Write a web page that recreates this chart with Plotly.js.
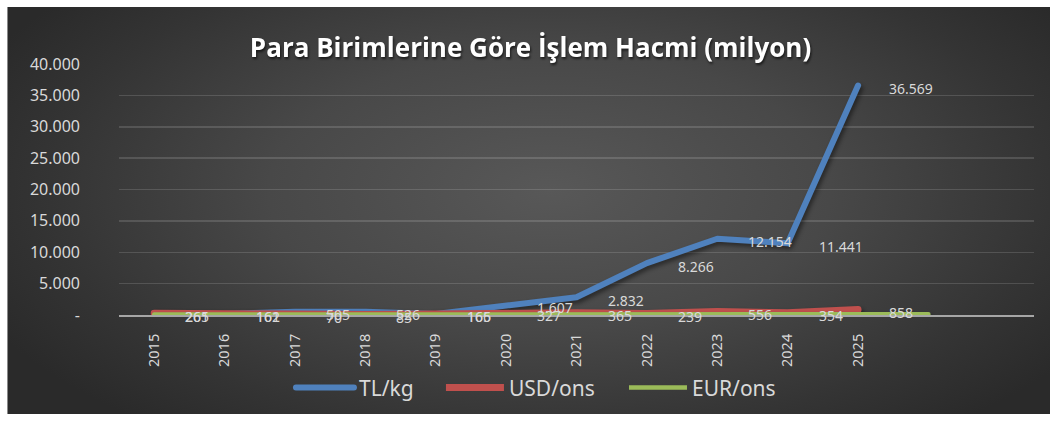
<!DOCTYPE html>
<html>
<head>
<meta charset="utf-8">
<script src="https://cdn.plot.ly/plotly-3.0.1.min.js"></script>
<style>
  html, body { margin: 0; padding: 0; background: #ffffff; width: 1058px; height: 421px; overflow: hidden; }
  #chart {
    position: absolute; left: 7px; top: 7px; width: 1043px; height: 407px;
    background: radial-gradient(ellipse 60% 75% at 52% 45%, #585858 0%, #484848 45%, #343434 80%, #2a2a2a 100%);
    border-left: 1px solid #8a8a8a;
    box-sizing: border-box;
  }
  .scatterlayer .js-line { stroke-linecap: round; stroke-linejoin: round; filter: drop-shadow(2px 3px 2px rgba(0,0,0,0.45)); }
  .legend .js-line { stroke-linecap: round; }
  .gtitle { filter: drop-shadow(1px 2px 1px rgba(0,0,0,0.6)); }
</style>
</head>
<body>
<div id="chart"></div>
<script>
// ---- data ----
const years = ['2015','2016','2017','2018','2019','2020','2021','2022','2023','2024','2025'];
const tlKg   = [261, 161, 505, 526, 166, 1607, 2832, 8266, 12154, 11441, 36569];
const usdOns = [265, 162, 70, 85, 165, 327, 365, 239, 556, 354, 858];
const eurOns = [60, 55, 50, 50, 55, 70, 75, 65, 90, 80, 110, 120];
const yTickValues = [0, 5000, 10000, 15000, 20000, 25000, 30000, 35000, 40000];
const seriesNames = ['TL/kg', 'USD/ons', 'EUR/ons'];

function fmt(v) {
  return v === 0 ? '-' : String(v).replace(/\B(?=(\d{3})+(?!\d))/g, '.');
}
const idx = n => Array.from({length: n}, (_, i) => i);

const labelFont = {family: 'Noto Sans, sans-serif', size: 14, color: '#d9d9d9'};

const traces = [
  {x: idx(tlKg.length), y: tlKg, name: seriesNames[0], mode: 'lines', legend: 'legend',
   line: {color: '#4f81bd', width: 6}, hoverinfo: 'skip'},
  {x: idx(usdOns.length), y: usdOns, name: seriesNames[1], mode: 'lines', legend: 'legend2',
   line: {color: '#c0504d', width: 7}, hoverinfo: 'skip'},
  {x: idx(eurOns.length), y: eurOns, name: seriesNames[2], mode: 'lines', legend: 'legend3',
   line: {color: '#9bbb59', width: 4.5}, hoverinfo: 'skip'}
];

const annotations = [];
[tlKg, usdOns].forEach(arr => {
  arr.forEach((v, i) => {
    annotations.push({
      x: i, y: v, xref: 'x', yref: 'y', text: fmt(v), showarrow: false,
      xanchor: 'left', yanchor: 'middle', xshift: 29, yshift: -3, font: labelFont
    });
  });
});

const legendFont = {family: 'Noto Sans, sans-serif', size: 21, color: '#d9d9d9'};
function legendAt(x) {
  return {orientation: 'h', x: x, xanchor: 'left', xref: 'container',
          y: 0.064, yanchor: 'middle', yref: 'container',
          font: legendFont, itemwidth: 58, bgcolor: 'rgba(0,0,0,0)'};
}

const layout = {
  width: 1043, height: 407,
  paper_bgcolor: 'rgba(0,0,0,0)', plot_bgcolor: 'rgba(0,0,0,0)',
  margin: {l: 111, r: 17, t: 57, b: 99},
  title: {
    text: '<b>Para Birimlerine Göre İşlem Hacmi (milyon)</b>',
    font: {family: 'Open Sans, sans-serif', size: 26, color: '#ffffff'},
    x: 0.501, xanchor: 'center', xref: 'container', y: 0.9, yref: 'container', yanchor: 'middle'
  },
  xaxis: {
    range: [-0.5, 12.5], tickmode: 'array',
    tickvals: idx(years.length), ticktext: years, tickangle: -90,
    tickfont: {family: 'Noto Sans, sans-serif', size: 14.5, color: '#d9d9d9'},
    showgrid: false, zeroline: false, showline: true, linecolor: '#a6a6a6', linewidth: 2,
    ticks: '', ticklabelstandoff: 11, fixedrange: true
  },
  yaxis: {
    range: [0, 40000], tickmode: 'array',
    tickvals: yTickValues, ticktext: yTickValues.map(fmt),
    tickfont: {family: 'Noto Sans, sans-serif', size: 16, color: '#d9d9d9'},
    showgrid: true, gridcolor: 'rgba(255,255,255,0.14)', gridwidth: 1.5,
    zeroline: false, showline: false, ticks: '', ticklabelstandoff: 38, fixedrange: true
  },
  showlegend: true,
  legend: legendAt(0.2713),
  legend2: legendAt(0.4151),
  legend3: legendAt(0.5906),
  annotations: annotations
};

Plotly.newPlot('chart', traces, layout, {displayModeBar: false, staticPlot: true});
</script>
</body>
</html>
